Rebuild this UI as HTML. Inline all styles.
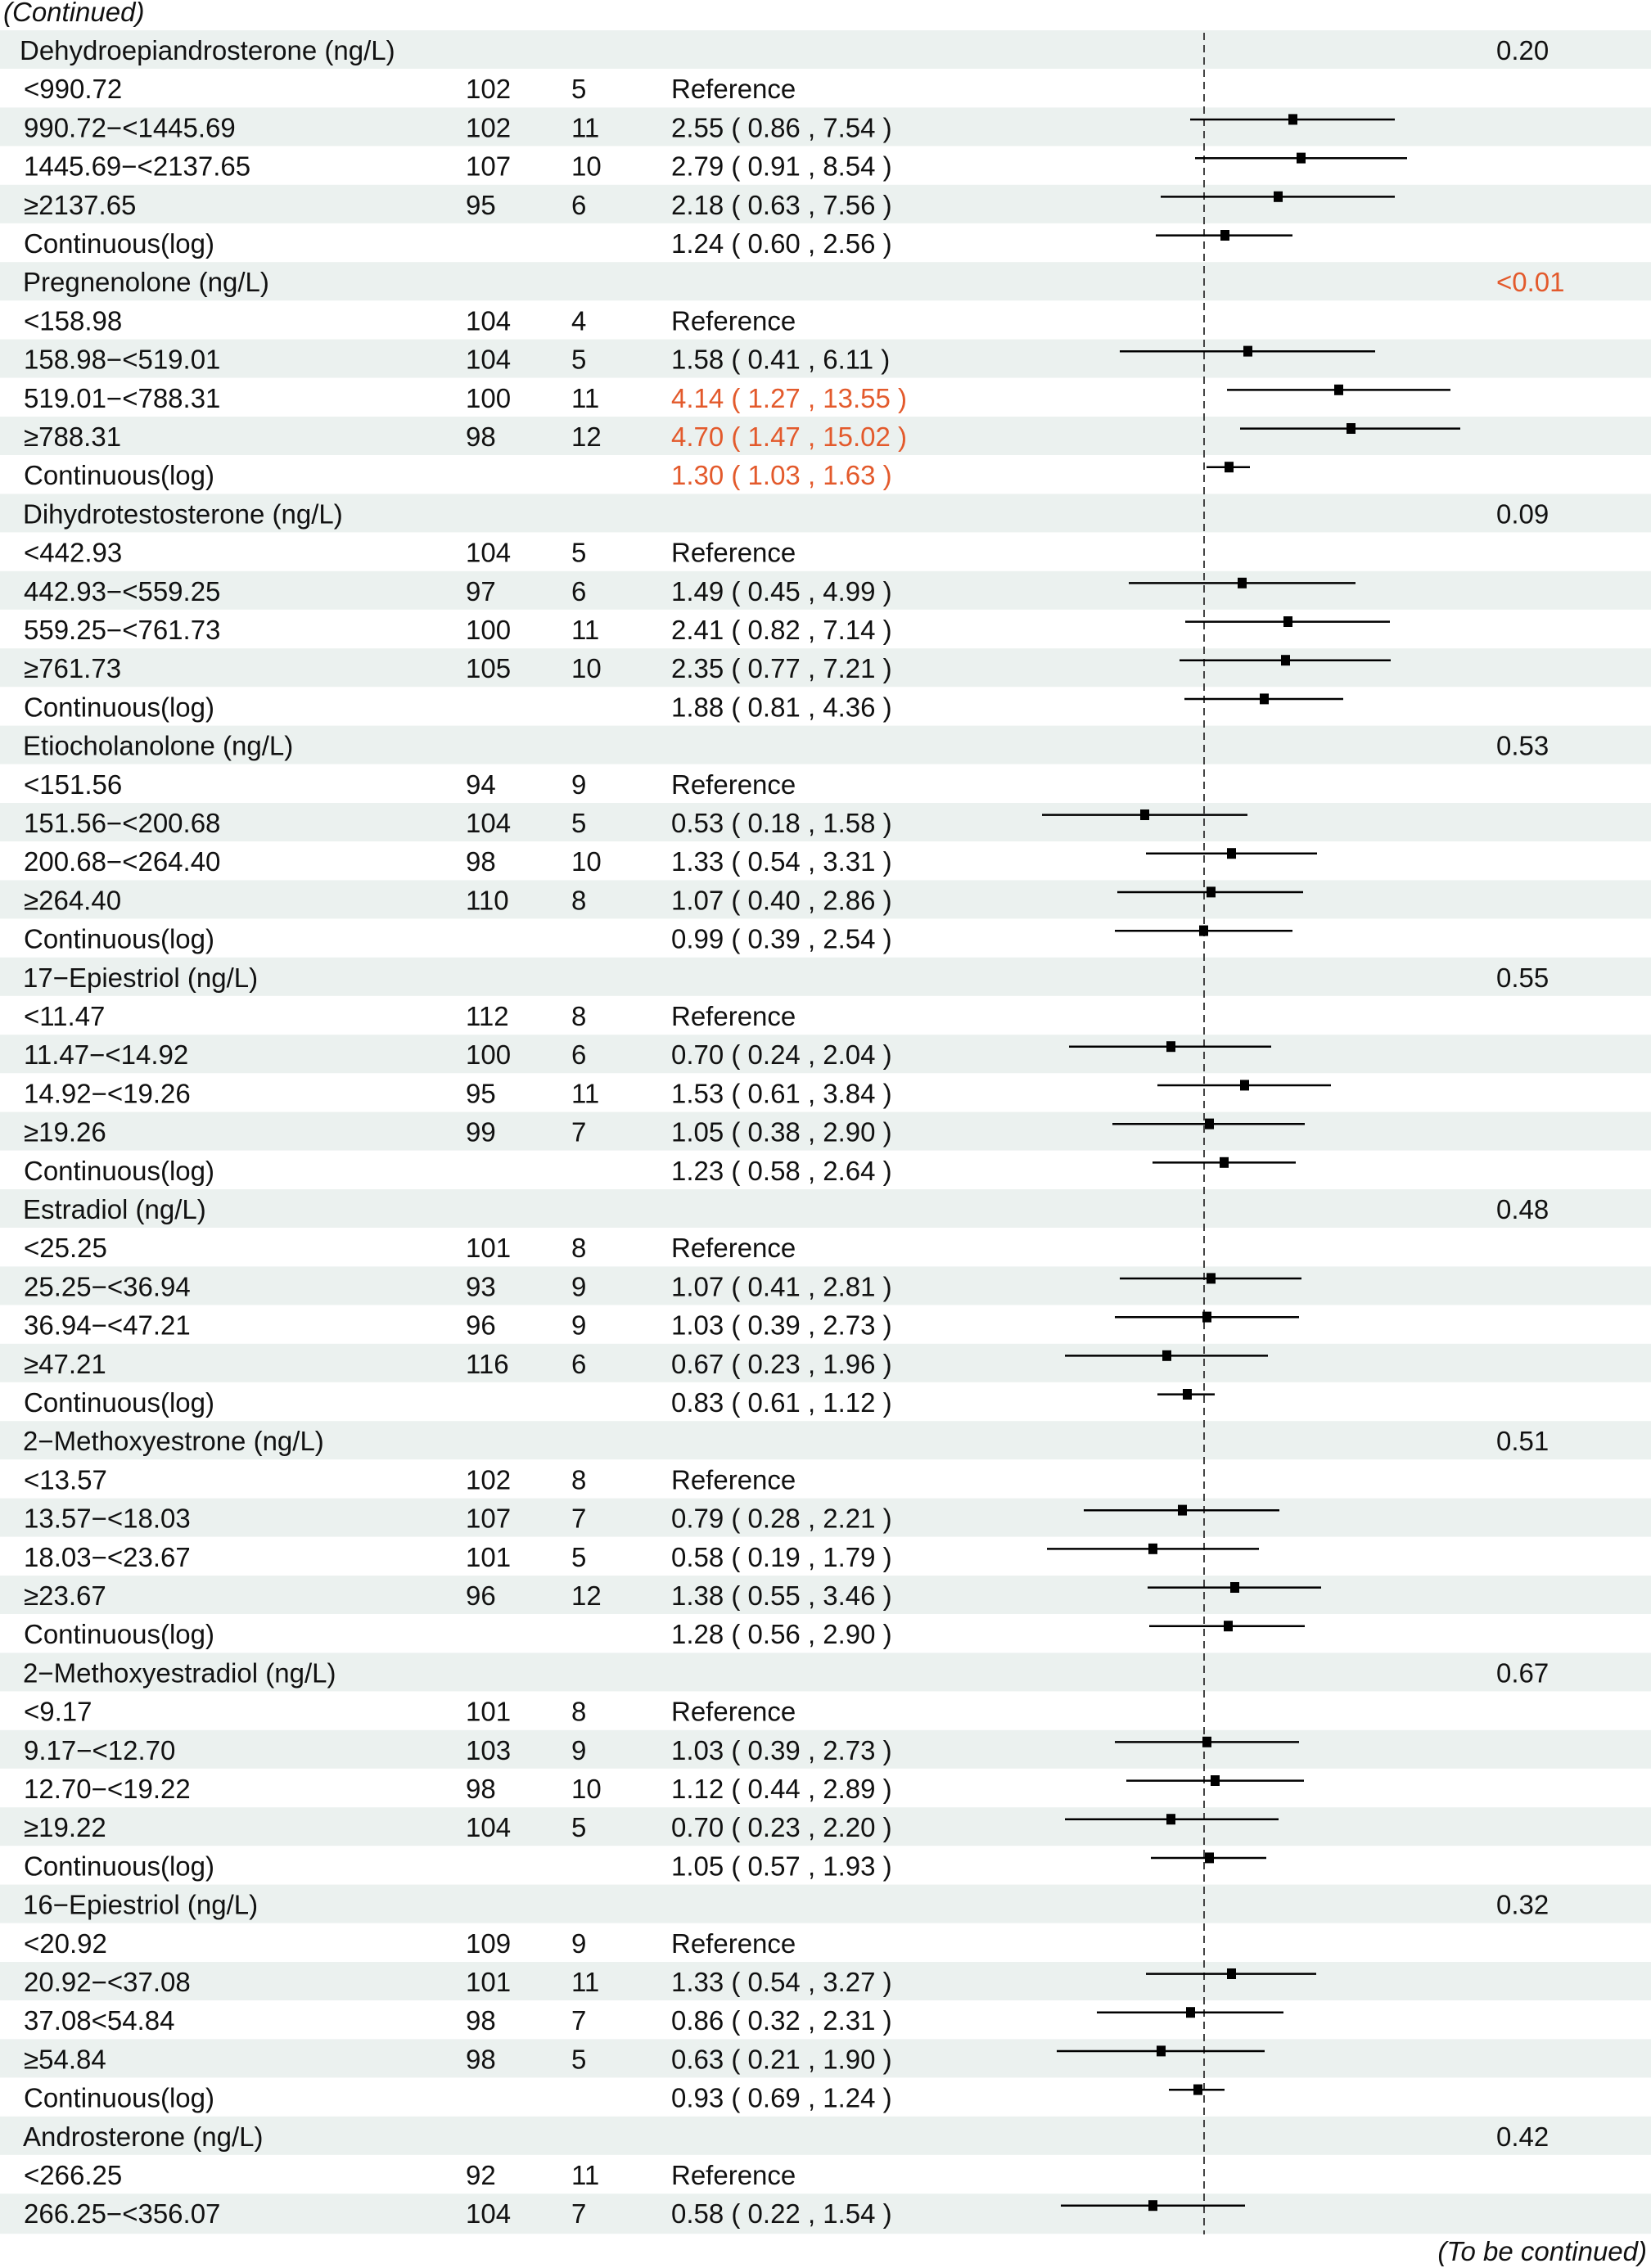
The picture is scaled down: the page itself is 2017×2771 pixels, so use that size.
<!DOCTYPE html>
<html><head><meta charset="utf-8"><style>
html,body{margin:0;padding:0;background:#fff}
svg{display:block}
text{font-family:"Liberation Sans",Arial,sans-serif;font-size:33px;fill:#111}
.o{fill:#E35A2C}
</style></head><body>
<svg width="2017" height="2771" viewBox="0 0 2017 2771" xmlns="http://www.w3.org/2000/svg">
<text x="4" y="26" font-style="italic">(Continued)</text>
<text x="2012" y="2762" font-style="italic" text-anchor="end">(To be continued)</text>

<g>
<rect x="0" y="37" width="2017" height="47" fill="#EBF1EF"/>
<rect x="0" y="131.4" width="2017" height="47" fill="#EBF1EF"/>
<rect x="0" y="225.8" width="2017" height="47" fill="#EBF1EF"/>
<rect x="0" y="320.2" width="2017" height="47" fill="#EBF1EF"/>
<rect x="0" y="414.6" width="2017" height="47" fill="#EBF1EF"/>
<rect x="0" y="509" width="2017" height="47" fill="#EBF1EF"/>
<rect x="0" y="603.4" width="2017" height="47" fill="#EBF1EF"/>
<rect x="0" y="697.8" width="2017" height="47" fill="#EBF1EF"/>
<rect x="0" y="792.2" width="2017" height="47" fill="#EBF1EF"/>
<rect x="0" y="886.6" width="2017" height="47" fill="#EBF1EF"/>
<rect x="0" y="981" width="2017" height="47" fill="#EBF1EF"/>
<rect x="0" y="1075.4" width="2017" height="47" fill="#EBF1EF"/>
<rect x="0" y="1169.8" width="2017" height="47" fill="#EBF1EF"/>
<rect x="0" y="1264.2" width="2017" height="47" fill="#EBF1EF"/>
<rect x="0" y="1358.6" width="2017" height="47" fill="#EBF1EF"/>
<rect x="0" y="1453" width="2017" height="47" fill="#EBF1EF"/>
<rect x="0" y="1547.4" width="2017" height="47" fill="#EBF1EF"/>
<rect x="0" y="1641.8" width="2017" height="47" fill="#EBF1EF"/>
<rect x="0" y="1736.2" width="2017" height="47" fill="#EBF1EF"/>
<rect x="0" y="1830.6" width="2017" height="47" fill="#EBF1EF"/>
<rect x="0" y="1925" width="2017" height="47" fill="#EBF1EF"/>
<rect x="0" y="2019.4" width="2017" height="47" fill="#EBF1EF"/>
<rect x="0" y="2113.8" width="2017" height="47" fill="#EBF1EF"/>
<rect x="0" y="2208.2" width="2017" height="47" fill="#EBF1EF"/>
<rect x="0" y="2302.6" width="2017" height="47" fill="#EBF1EF"/>
<rect x="0" y="2397" width="2017" height="47" fill="#EBF1EF"/>
<rect x="0" y="2491.4" width="2017" height="47" fill="#EBF1EF"/>
<rect x="0" y="2585.8" width="2017" height="47" fill="#EBF1EF"/>
<rect x="0" y="2680.2" width="2017" height="49" fill="#EBF1EF"/>
</g>

<line x1="1471" y1="40" x2="1471" y2="2730" stroke="#444" stroke-width="2" stroke-dasharray="9,6"/>

<g transform="translate(0,37)"><text x="24" y="36">Dehydroepiandrosterone (ng/L)</text><text x="1828" y="36">0.20</text></g>
<g transform="translate(0,84.2)"><text x="29" y="36">&lt;990.72</text><text x="569" y="36">102</text><text x="698" y="36">5</text><text x="820" y="36">Reference</text></g>
<g transform="translate(0,131.4)"><text x="29" y="36">990.72−&lt;1445.69</text><text x="569" y="36">102</text><text x="698" y="36">11</text><text x="820" y="36">2.55 ( 0.86 , 7.54 )</text><line x1="1454" x2="1704" y1="14.6" y2="14.6" stroke="#000" stroke-width="2.5"/><rect x="1574" y="8" width="11" height="13"/></g>
<g transform="translate(0,178.6)"><text x="29" y="36">1445.69−&lt;2137.65</text><text x="569" y="36">107</text><text x="698" y="36">10</text><text x="820" y="36">2.79 ( 0.91 , 8.54 )</text><line x1="1460" x2="1719" y1="14.6" y2="14.6" stroke="#000" stroke-width="2.5"/><rect x="1584" y="8" width="11" height="13"/></g>
<g transform="translate(0,225.8)"><text x="29" y="36">≥2137.65</text><text x="569" y="36">95</text><text x="698" y="36">6</text><text x="820" y="36">2.18 ( 0.63 , 7.56 )</text><line x1="1418" x2="1704" y1="14.6" y2="14.6" stroke="#000" stroke-width="2.5"/><rect x="1556" y="8" width="11" height="13"/></g>
<g transform="translate(0,273)"><text x="29" y="36">Continuous(log)</text><text x="820" y="36">1.24 ( 0.60 , 2.56 )</text><line x1="1412" x2="1579" y1="14.6" y2="14.6" stroke="#000" stroke-width="2.5"/><rect x="1491" y="8" width="11" height="13"/></g>

<g transform="translate(0,320.2)"><text x="28" y="36">Pregnenolone (ng/L)</text><text x="1828" y="36" class="o">&lt;0.01</text></g>
<g transform="translate(0,367.4)"><text x="29" y="36">&lt;158.98</text><text x="569" y="36">104</text><text x="698" y="36">4</text><text x="820" y="36">Reference</text></g>
<g transform="translate(0,414.6)"><text x="29" y="36">158.98−&lt;519.01</text><text x="569" y="36">104</text><text x="698" y="36">5</text><text x="820" y="36">1.58 ( 0.41 , 6.11 )</text><line x1="1368" x2="1680" y1="14.6" y2="14.6" stroke="#000" stroke-width="2.5"/><rect x="1519" y="8" width="11" height="13"/></g>
<g transform="translate(0,461.8)"><text x="29" y="36">519.01−&lt;788.31</text><text x="569" y="36">100</text><text x="698" y="36">11</text><text x="820" y="36" class="o">4.14 ( 1.27 , 13.55 )</text><line x1="1499" x2="1772" y1="14.6" y2="14.6" stroke="#000" stroke-width="2.5"/><rect x="1630" y="8" width="11" height="13"/></g>
<g transform="translate(0,509)"><text x="29" y="36">≥788.31</text><text x="569" y="36">98</text><text x="698" y="36">12</text><text x="820" y="36" class="o">4.70 ( 1.47 , 15.02 )</text><line x1="1515" x2="1784" y1="14.6" y2="14.6" stroke="#000" stroke-width="2.5"/><rect x="1645" y="8" width="11" height="13"/></g>
<g transform="translate(0,556.2)"><text x="29" y="36">Continuous(log)</text><text x="820" y="36" class="o">1.30 ( 1.03 , 1.63 )</text><line x1="1474" x2="1527" y1="14.6" y2="14.6" stroke="#000" stroke-width="2.5"/><rect x="1496" y="8" width="11" height="13"/></g>

<g transform="translate(0,603.4)"><text x="28" y="36">Dihydrotestosterone (ng/L)</text><text x="1828" y="36">0.09</text></g>
<g transform="translate(0,650.6)"><text x="29" y="36">&lt;442.93</text><text x="569" y="36">104</text><text x="698" y="36">5</text><text x="820" y="36">Reference</text></g>
<g transform="translate(0,697.8)"><text x="29" y="36">442.93−&lt;559.25</text><text x="569" y="36">97</text><text x="698" y="36">6</text><text x="820" y="36">1.49 ( 0.45 , 4.99 )</text><line x1="1379" x2="1656" y1="14.6" y2="14.6" stroke="#000" stroke-width="2.5"/><rect x="1512" y="8" width="11" height="13"/></g>
<g transform="translate(0,745)"><text x="29" y="36">559.25−&lt;761.73</text><text x="569" y="36">100</text><text x="698" y="36">11</text><text x="820" y="36">2.41 ( 0.82 , 7.14 )</text><line x1="1448" x2="1698" y1="14.6" y2="14.6" stroke="#000" stroke-width="2.5"/><rect x="1568" y="8" width="11" height="13"/></g>
<g transform="translate(0,792.2)"><text x="29" y="36">≥761.73</text><text x="569" y="36">105</text><text x="698" y="36">10</text><text x="820" y="36">2.35 ( 0.77 , 7.21 )</text><line x1="1441" x2="1699" y1="14.6" y2="14.6" stroke="#000" stroke-width="2.5"/><rect x="1565" y="8" width="11" height="13"/></g>
<g transform="translate(0,839.4)"><text x="29" y="36">Continuous(log)</text><text x="820" y="36">1.88 ( 0.81 , 4.36 )</text><line x1="1447" x2="1641" y1="14.6" y2="14.6" stroke="#000" stroke-width="2.5"/><rect x="1539" y="8" width="11" height="13"/></g>

<g transform="translate(0,886.6)"><text x="28" y="36">Etiocholanolone (ng/L)</text><text x="1828" y="36">0.53</text></g>
<g transform="translate(0,933.8)"><text x="29" y="36">&lt;151.56</text><text x="569" y="36">94</text><text x="698" y="36">9</text><text x="820" y="36">Reference</text></g>
<g transform="translate(0,981)"><text x="29" y="36">151.56−&lt;200.68</text><text x="569" y="36">104</text><text x="698" y="36">5</text><text x="820" y="36">0.53 ( 0.18 , 1.58 )</text><line x1="1273" x2="1524" y1="14.6" y2="14.6" stroke="#000" stroke-width="2.5"/><rect x="1393" y="8" width="11" height="13"/></g>
<g transform="translate(0,1028.2)"><text x="29" y="36">200.68−&lt;264.40</text><text x="569" y="36">98</text><text x="698" y="36">10</text><text x="820" y="36">1.33 ( 0.54 , 3.31 )</text><line x1="1400" x2="1609" y1="14.6" y2="14.6" stroke="#000" stroke-width="2.5"/><rect x="1499" y="8" width="11" height="13"/></g>
<g transform="translate(0,1075.4)"><text x="29" y="36">≥264.40</text><text x="569" y="36">110</text><text x="698" y="36">8</text><text x="820" y="36">1.07 ( 0.40 , 2.86 )</text><line x1="1365" x2="1592" y1="14.6" y2="14.6" stroke="#000" stroke-width="2.5"/><rect x="1474" y="8" width="11" height="13"/></g>
<g transform="translate(0,1122.6)"><text x="29" y="36">Continuous(log)</text><text x="820" y="36">0.99 ( 0.39 , 2.54 )</text><line x1="1362" x2="1579" y1="14.6" y2="14.6" stroke="#000" stroke-width="2.5"/><rect x="1465" y="8" width="11" height="13"/></g>

<g transform="translate(0,1169.8)"><text x="28" y="36">17−Epiestriol (ng/L)</text><text x="1828" y="36">0.55</text></g>
<g transform="translate(0,1217)"><text x="29" y="36">&lt;11.47</text><text x="569" y="36">112</text><text x="698" y="36">8</text><text x="820" y="36">Reference</text></g>
<g transform="translate(0,1264.2)"><text x="29" y="36">11.47−&lt;14.92</text><text x="569" y="36">100</text><text x="698" y="36">6</text><text x="820" y="36">0.70 ( 0.24 , 2.04 )</text><line x1="1306" x2="1553" y1="14.6" y2="14.6" stroke="#000" stroke-width="2.5"/><rect x="1425" y="8" width="11" height="13"/></g>
<g transform="translate(0,1311.4)"><text x="29" y="36">14.92−&lt;19.26</text><text x="569" y="36">95</text><text x="698" y="36">11</text><text x="820" y="36">1.53 ( 0.61 , 3.84 )</text><line x1="1414" x2="1626" y1="14.6" y2="14.6" stroke="#000" stroke-width="2.5"/><rect x="1515" y="8" width="11" height="13"/></g>
<g transform="translate(0,1358.6)"><text x="29" y="36">≥19.26</text><text x="569" y="36">99</text><text x="698" y="36">7</text><text x="820" y="36">1.05 ( 0.38 , 2.90 )</text><line x1="1359" x2="1594" y1="14.6" y2="14.6" stroke="#000" stroke-width="2.5"/><rect x="1472" y="8" width="11" height="13"/></g>
<g transform="translate(0,1405.8)"><text x="29" y="36">Continuous(log)</text><text x="820" y="36">1.23 ( 0.58 , 2.64 )</text><line x1="1408" x2="1583" y1="14.6" y2="14.6" stroke="#000" stroke-width="2.5"/><rect x="1490" y="8" width="11" height="13"/></g>

<g transform="translate(0,1453)"><text x="28" y="36">Estradiol (ng/L)</text><text x="1828" y="36">0.48</text></g>
<g transform="translate(0,1500.2)"><text x="29" y="36">&lt;25.25</text><text x="569" y="36">101</text><text x="698" y="36">8</text><text x="820" y="36">Reference</text></g>
<g transform="translate(0,1547.4)"><text x="29" y="36">25.25−&lt;36.94</text><text x="569" y="36">93</text><text x="698" y="36">9</text><text x="820" y="36">1.07 ( 0.41 , 2.81 )</text><line x1="1368" x2="1590" y1="14.6" y2="14.6" stroke="#000" stroke-width="2.5"/><rect x="1474" y="8" width="11" height="13"/></g>
<g transform="translate(0,1594.6)"><text x="29" y="36">36.94−&lt;47.21</text><text x="569" y="36">96</text><text x="698" y="36">9</text><text x="820" y="36">1.03 ( 0.39 , 2.73 )</text><line x1="1362" x2="1587" y1="14.6" y2="14.6" stroke="#000" stroke-width="2.5"/><rect x="1469" y="8" width="11" height="13"/></g>
<g transform="translate(0,1641.8)"><text x="29" y="36">≥47.21</text><text x="569" y="36">116</text><text x="698" y="36">6</text><text x="820" y="36">0.67 ( 0.23 , 1.96 )</text><line x1="1301" x2="1549" y1="14.6" y2="14.6" stroke="#000" stroke-width="2.5"/><rect x="1420" y="8" width="11" height="13"/></g>
<g transform="translate(0,1689)"><text x="29" y="36">Continuous(log)</text><text x="820" y="36">0.83 ( 0.61 , 1.12 )</text><line x1="1414" x2="1484" y1="14.6" y2="14.6" stroke="#000" stroke-width="2.5"/><rect x="1445" y="8" width="11" height="13"/></g>

<g transform="translate(0,1736.2)"><text x="28" y="36">2−Methoxyestrone (ng/L)</text><text x="1828" y="36">0.51</text></g>
<g transform="translate(0,1783.4)"><text x="29" y="36">&lt;13.57</text><text x="569" y="36">102</text><text x="698" y="36">8</text><text x="820" y="36">Reference</text></g>
<g transform="translate(0,1830.6)"><text x="29" y="36">13.57−&lt;18.03</text><text x="569" y="36">107</text><text x="698" y="36">7</text><text x="820" y="36">0.79 ( 0.28 , 2.21 )</text><line x1="1324" x2="1563" y1="14.6" y2="14.6" stroke="#000" stroke-width="2.5"/><rect x="1439" y="8" width="11" height="13"/></g>
<g transform="translate(0,1877.8)"><text x="29" y="36">18.03−&lt;23.67</text><text x="569" y="36">101</text><text x="698" y="36">5</text><text x="820" y="36">0.58 ( 0.19 , 1.79 )</text><line x1="1279" x2="1538" y1="14.6" y2="14.6" stroke="#000" stroke-width="2.5"/><rect x="1403" y="8" width="11" height="13"/></g>
<g transform="translate(0,1925)"><text x="29" y="36">≥23.67</text><text x="569" y="36">96</text><text x="698" y="36">12</text><text x="820" y="36">1.38 ( 0.55 , 3.46 )</text><line x1="1402" x2="1614" y1="14.6" y2="14.6" stroke="#000" stroke-width="2.5"/><rect x="1503" y="8" width="11" height="13"/></g>
<g transform="translate(0,1972.2)"><text x="29" y="36">Continuous(log)</text><text x="820" y="36">1.28 ( 0.56 , 2.90 )</text><line x1="1404" x2="1594" y1="14.6" y2="14.6" stroke="#000" stroke-width="2.5"/><rect x="1495" y="8" width="11" height="13"/></g>

<g transform="translate(0,2019.4)"><text x="28" y="36">2−Methoxyestradiol (ng/L)</text><text x="1828" y="36">0.67</text></g>
<g transform="translate(0,2066.6)"><text x="29" y="36">&lt;9.17</text><text x="569" y="36">101</text><text x="698" y="36">8</text><text x="820" y="36">Reference</text></g>
<g transform="translate(0,2113.8)"><text x="29" y="36">9.17−&lt;12.70</text><text x="569" y="36">103</text><text x="698" y="36">9</text><text x="820" y="36">1.03 ( 0.39 , 2.73 )</text><line x1="1362" x2="1587" y1="14.6" y2="14.6" stroke="#000" stroke-width="2.5"/><rect x="1469" y="8" width="11" height="13"/></g>
<g transform="translate(0,2161)"><text x="29" y="36">12.70−&lt;19.22</text><text x="569" y="36">98</text><text x="698" y="36">10</text><text x="820" y="36">1.12 ( 0.44 , 2.89 )</text><line x1="1376" x2="1593" y1="14.6" y2="14.6" stroke="#000" stroke-width="2.5"/><rect x="1479" y="8" width="11" height="13"/></g>
<g transform="translate(0,2208.2)"><text x="29" y="36">≥19.22</text><text x="569" y="36">104</text><text x="698" y="36">5</text><text x="820" y="36">0.70 ( 0.23 , 2.20 )</text><line x1="1301" x2="1562" y1="14.6" y2="14.6" stroke="#000" stroke-width="2.5"/><rect x="1425" y="8" width="11" height="13"/></g>
<g transform="translate(0,2255.4)"><text x="29" y="36">Continuous(log)</text><text x="820" y="36">1.05 ( 0.57 , 1.93 )</text><line x1="1406" x2="1547" y1="14.6" y2="14.6" stroke="#000" stroke-width="2.5"/><rect x="1472" y="8" width="11" height="13"/></g>

<g transform="translate(0,2302.6)"><text x="28" y="36">16−Epiestriol (ng/L)</text><text x="1828" y="36">0.32</text></g>
<g transform="translate(0,2349.8)"><text x="29" y="36">&lt;20.92</text><text x="569" y="36">109</text><text x="698" y="36">9</text><text x="820" y="36">Reference</text></g>
<g transform="translate(0,2397)"><text x="29" y="36">20.92−&lt;37.08</text><text x="569" y="36">101</text><text x="698" y="36">11</text><text x="820" y="36">1.33 ( 0.54 , 3.27 )</text><line x1="1400" x2="1608" y1="14.6" y2="14.6" stroke="#000" stroke-width="2.5"/><rect x="1499" y="8" width="11" height="13"/></g>
<g transform="translate(0,2444.2)"><text x="29" y="36">37.08&lt;54.84</text><text x="569" y="36">98</text><text x="698" y="36">7</text><text x="820" y="36">0.86 ( 0.32 , 2.31 )</text><line x1="1340" x2="1568" y1="14.6" y2="14.6" stroke="#000" stroke-width="2.5"/><rect x="1449" y="8" width="11" height="13"/></g>
<g transform="translate(0,2491.4)"><text x="29" y="36">≥54.84</text><text x="569" y="36">98</text><text x="698" y="36">5</text><text x="820" y="36">0.63 ( 0.21 , 1.90 )</text><line x1="1291" x2="1545" y1="14.6" y2="14.6" stroke="#000" stroke-width="2.5"/><rect x="1413" y="8" width="11" height="13"/></g>
<g transform="translate(0,2538.6)"><text x="29" y="36">Continuous(log)</text><text x="820" y="36">0.93 ( 0.69 , 1.24 )</text><line x1="1428" x2="1496" y1="14.6" y2="14.6" stroke="#000" stroke-width="2.5"/><rect x="1458" y="8" width="11" height="13"/></g>

<g transform="translate(0,2585.8)"><text x="28" y="36">Androsterone (ng/L)</text><text x="1828" y="36">0.42</text></g>
<g transform="translate(0,2633)"><text x="29" y="36">&lt;266.25</text><text x="569" y="36">92</text><text x="698" y="36">11</text><text x="820" y="36">Reference</text></g>
<g transform="translate(0,2680.2)"><text x="29" y="36">266.25−&lt;356.07</text><text x="569" y="36">104</text><text x="698" y="36">7</text><text x="820" y="36">0.58 ( 0.22 , 1.54 )</text><line x1="1296" x2="1521" y1="14.6" y2="14.6" stroke="#000" stroke-width="2.5"/><rect x="1403" y="8" width="11" height="13"/></g>
</svg>
</body></html>
